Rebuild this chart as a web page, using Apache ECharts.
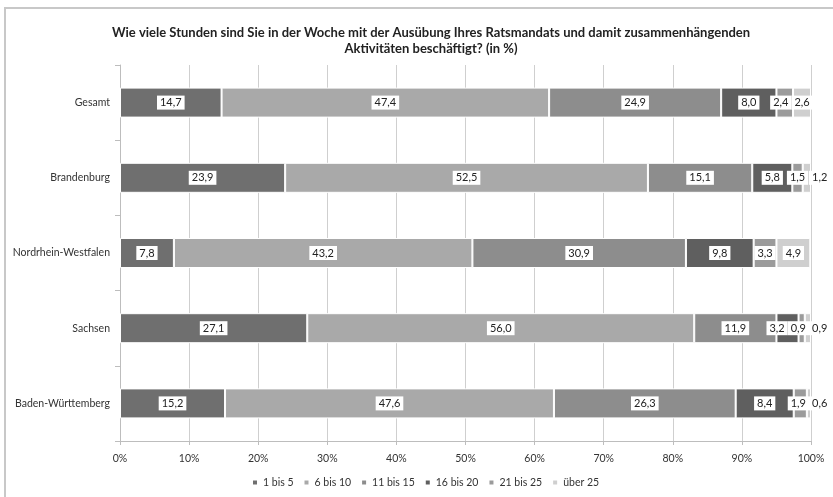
<!DOCTYPE html>
<html>
<head>
<meta charset="utf-8">
<script src="https://cdn.jsdelivr.net/npm/echarts@6/dist/echarts.min.js"></script>
<style>
  html, body { margin: 0; padding: 0; background: #fff; }
  #frame { position: absolute; left: 4px; top: 7px; width: 840px; height: 500px; border-left: 2px solid #c8c8c8; border-top: 2px solid #c8c8c8; box-sizing: border-box; }
  #chart { position: absolute; left: 0; top: 0; width: 833px; height: 497px; }
</style>
</head>
<body>
<div id="frame"></div>
<div id="chart"></div>
<script>
// Regions shown as rows, top to bottom
const regions = ['Gesamt', 'Brandenburg', 'Nordrhein-Westfalen', 'Sachsen', 'Baden-Württemberg'];

// Weekly hours spent on the council mandate (share in %)
const hours1to5   = [14.7, 23.9, 7.8, 27.1, 15.2];
const hours6to10  = [47.4, 52.5, 43.2, 56.0, 47.6];
const hours11to15 = [24.9, 15.1, 30.9, 11.9, 26.3];
const hours16to20 = [8.0, 5.8, 9.8, 3.2, 8.4];
const hours21to25 = [2.4, 1.5, 3.3, 0.9, 1.9];
const hoursOver25 = [2.6, 1.2, 4.9, 0.9, 0.6];

const seriesNames = ['1 bis 5', '6 bis 10', '11 bis 15', '16 bis 20', '21 bis 25', 'über 25'];
const seriesValues = [hours1to5, hours6to10, hours11to15, hours16to20, hours21to25, hoursOver25];
const seriesColors = ['#6f6f6f', '#a9a9a9', '#8d8d8d', '#5f5f5f', '#9b9b9b', '#cfcfcf'];

const FONT = 'Lato, "Open Sans", sans-serif';
const LABEL_SIZE = 11;
const LABEL_PAD = [2, 3, 1, 3];

const fmt = v => v.toFixed(1).replace('.', ',');

// Text width helper for label boxes
const measureCtx = document.createElement('canvas').getContext('2d');
measureCtx.font = LABEL_SIZE + 'px ' + FONT;
const boxWidth = v => measureCtx.measureText(fmt(v)).width + LABEL_PAD[1] + LABEL_PAD[3];

const chart = echarts.init(document.getElementById('chart'), null, { renderer: 'canvas' });

// Horizontal label offsets, filled in once the axes are laid out
const labelShift = seriesNames.map(() => regions.map(() => 0));

function buildSeries() {
  return seriesNames.map((name, i) => ({
    name: name,
    type: 'bar',
    stack: 'total',
    barWidth: 30,
    data: seriesValues[i],
    itemStyle: { color: seriesColors[i], borderColor: '#ffffff', borderWidth: 1 },
    label: {
      show: true,
      position: 'inside',
      formatter: p => fmt(p.value),
      color: '#222',
      fontFamily: FONT,
      fontSize: LABEL_SIZE,
      overflow: 'none',
      backgroundColor: '#ffffff',
      padding: LABEL_PAD
    },
    labelLayout: p => ({ dx: labelShift[p.seriesIndex][p.dataIndex], hideOverlap: false }),
    emphasis: { disabled: true }
  }));
}

chart.setOption({
  animation: false,
  textStyle: { fontFamily: FONT },
  title: {
    text: 'Wie viele Stunden sind Sie in der Woche mit der Ausübung Ihres Ratsmandats und damit zusammenhängenden\nAktivitäten beschäftigt? (in %)',
    left: 426,
    textAlign: 'center',
    top: 20,
    textStyle: { fontFamily: FONT, fontSize: 13, fontWeight: 'bold', color: '#222', lineHeight: 16 }
  },
  legend: {
    bottom: 4,
    left: 246,
    itemWidth: 6,
    itemHeight: 6,
    itemGap: 9,
    icon: 'rect',
    textStyle: { fontFamily: FONT, fontSize: 10.5, color: '#333' },
    data: seriesNames
  },
  grid: { left: 120, right: 22, top: 65, bottom: 56 },
  xAxis: {
    type: 'value',
    min: 0,
    max: 100,
    interval: 10,
    axisLabel: { formatter: '{value}%', fontFamily: FONT, fontSize: 10.5, color: '#333', margin: 12 },
    axisLine: { show: true, lineStyle: { color: '#bdbdbd', width: 1 } },
    axisTick: { show: true, length: 4, lineStyle: { color: '#bdbdbd' } },
    splitLine: { show: true, lineStyle: { color: '#cfcfcf', width: 1 } }
  },
  yAxis: {
    type: 'category',
    inverse: true,
    data: regions,
    axisLabel: { fontFamily: FONT, fontSize: 10.5, color: '#333', margin: 10 },
    axisLine: { show: true, lineStyle: { color: '#bdbdbd', width: 1 } },
    axisTick: { show: true, length: 5, alignWithLabel: false, lineStyle: { color: '#bdbdbd' } }
  },
  series: buildSeries()
});

// Spread crowded labels: the last one moves past the bar end when it
// clearly does not fit, the others slide left until their boxes no longer overlap.
regions.forEach((_, r) => {
  let acc = 0;
  const centers = [], sizes = [];
  seriesValues.forEach(vals => {
    const x0 = chart.convertToPixel({ xAxisIndex: 0 }, acc);
    acc += vals[r];
    const x1 = chart.convertToPixel({ xAxisIndex: 0 }, acc);
    centers.push((x0 + x1) / 2);
    sizes.push({ w: boxWidth(vals[r]), seg: x1 - x0, end: x1 });
  });
  const target = centers.slice();
  const last = target.length - 1;
  if (sizes[last].w > sizes[last].seg + 4) {
    target[last] = sizes[last].end - 2 + sizes[last].w / 2;
  }
  for (let i = last - 1; i >= 0; i--) {
    const limit = target[i + 1] - sizes[i + 1].w / 2;
    if (target[i] + sizes[i].w / 2 > limit) {
      target[i] = limit - sizes[i].w / 2;
    }
  }
  target.forEach((t, i) => { labelShift[i][r] = t - centers[i]; });
});

chart.setOption({ series: buildSeries() });
</script>
</body>
</html>
